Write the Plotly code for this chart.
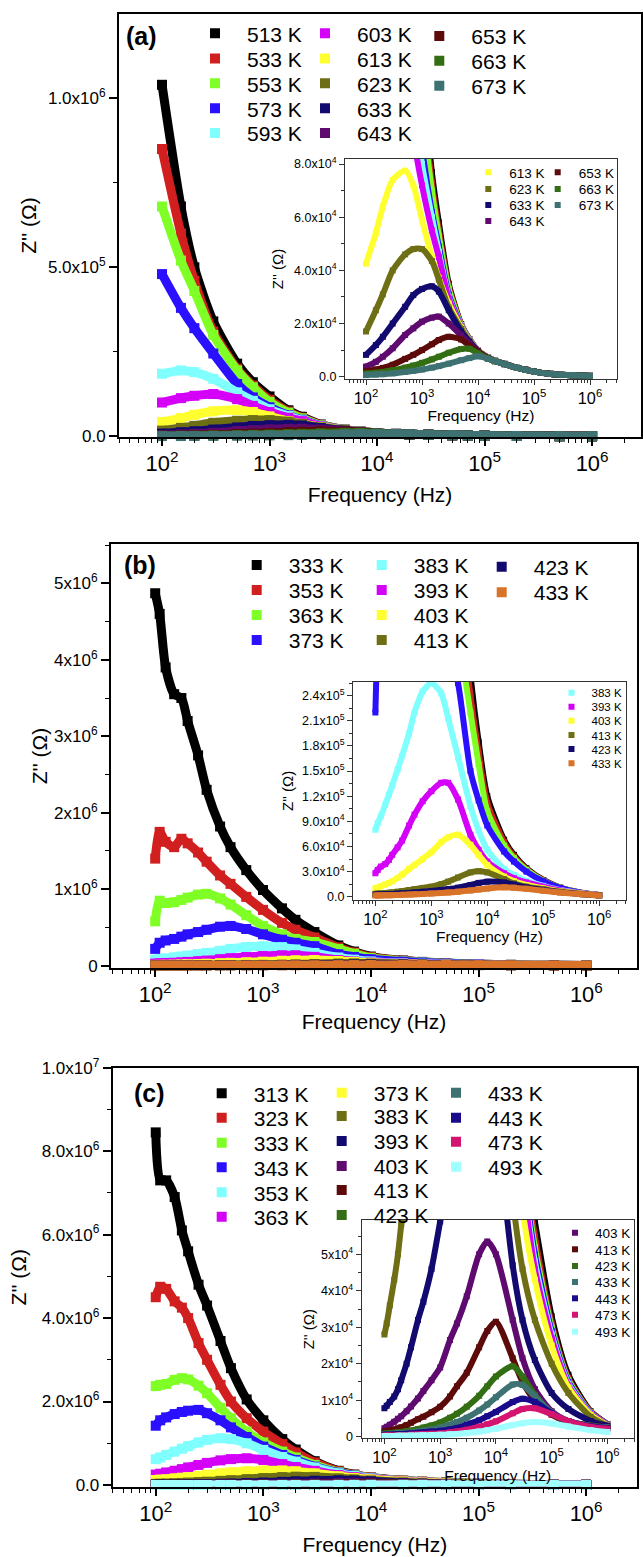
import plotly.graph_objects as go

# ======================= DATA =======================
# ---- panel (a) ----
FREQ_A = [100, 150, 200, 300, 500, 700, 1e3, 1.5e3, 2e3, 3e3, 5e3, 7e3, 1e4, 1.5e4,
          2e4, 3e4, 5e4, 7e4, 1e5, 2e5, 5e5, 1e6]
TEMPS_A = ["513 K", "533 K", "553 K", "573 K", "593 K", "603 K", "613 K", "623 K",
           "633 K", "643 K", "653 K", "663 K", "673 K"]
Z_A_513 = [1.04e6, 6.8e5, 5.0e5, 3.4e5, 2.15e5, 1.6e5, 1.18e5, 7.7e4, 5.8e4, 3.5e4, 1.98e4, 1.42e4, 9.9e3, 7.3e3, 6.1e3, 4.8e3, 3.3e3, 2.6e3, 1.9e3, 1.05e3, 5.0e2, 3.0e2]
Z_A_533 = [8.5e5, 6.0e5, 4.6e5, 3.1e5, 2.0e5, 1.5e5, 1.08e5, 7.3e4, 5.5e4, 3.4e4, 1.96e4, 1.41e4, 9.9e3, 7.3e3, 6.1e3, 4.8e3, 3.3e3, 2.6e3, 1.9e3, 1.05e3, 5.0e2, 3.0e2]
Z_A_553 = [6.8e5, 5.2e5, 4.3e5, 3.0e5, 1.95e5, 1.45e5, 1.02e5, 7.0e4, 5.3e4, 3.3e4, 1.94e4, 1.4e4, 9.8e3, 7.3e3, 6.1e3, 4.8e3, 3.3e3, 2.6e3, 1.9e3, 1.05e3, 5.0e2, 3.0e2]
Z_A_573 = [4.8e5, 3.8e5, 3.2e5, 2.45e5, 1.55e5, 1.15e5, 8.6e4, 6.2e4, 4.9e4, 3.1e4, 1.9e4, 1.39e4, 9.8e3, 7.2e3, 6.0e3, 4.8e3, 3.3e3, 2.6e3, 1.9e3, 1.05e3, 5.0e2, 3.0e2]
Z_A_593 = [1.85e5, 1.95e5, 1.9e5, 1.7e5, 1.3e5, 1.05e5, 8.0e4, 6.0e4, 4.7e4, 3.0e4, 1.88e4, 1.38e4, 9.8e3, 7.2e3, 6.0e3, 4.8e3, 3.3e3, 2.6e3, 1.9e3, 1.05e3, 5.0e2, 3.0e2]
Z_A_603 = [1.0e5, 1.13e5, 1.2e5, 1.25e5, 1.1e5, 9.0e4, 7.2e4, 5.5e4, 4.5e4, 2.95e4, 1.87e4, 1.37e4, 9.8e3, 7.2e3, 6.0e3, 4.8e3, 3.3e3, 2.6e3, 1.9e3, 1.05e3, 5.0e2, 3.0e2]
Z_A_613 = [4.25e4, 5.4e4, 6.4e4, 7.4e4, 7.75e4, 7.2e4, 5.9e4, 4.5e4, 3.7e4, 2.75e4, 1.85e4, 1.36e4, 9.8e3, 7.2e3, 6.0e3, 4.8e3, 3.3e3, 2.6e3, 1.9e3, 1.05e3, 5.0e2, 3.0e2]
Z_A_623 = [1.7e4, 2.5e4, 3.1e4, 4.0e4, 4.6e4, 4.8e4, 4.8e4, 4.35e4, 3.65e4, 2.6e4, 1.8e4, 1.35e4, 9.7e3, 7.1e3, 6.0e3, 4.8e3, 3.3e3, 2.6e3, 1.9e3, 1.05e3, 5.0e2, 3.0e2]
Z_A_633 = [8.2e3, 1.19e4, 1.5e4, 2.0e4, 2.63e4, 3.07e4, 3.3e4, 3.4e4, 3.2e4, 2.5e4, 1.7e4, 1.32e4, 9.6e3, 7.1e3, 5.9e3, 4.8e3, 3.3e3, 2.6e3, 1.9e3, 1.05e3, 5.0e2, 3.0e2]
Z_A_643 = [3.8e3, 5.6e3, 7.5e3, 1.07e4, 1.57e4, 1.82e4, 2.07e4, 2.22e4, 2.26e4, 2.0e4, 1.55e4, 1.25e4, 9.4e3, 7.0e3, 5.9e3, 4.7e3, 3.3e3, 2.6e3, 1.9e3, 1.05e3, 5.0e2, 3.0e2]
Z_A_653 = [2.0e3, 2.7e3, 3.3e3, 4.5e3, 6.7e3, 8.2e3, 1.0e4, 1.22e4, 1.38e4, 1.5e4, 1.4e4, 1.17e4, 9.2e3, 6.9e3, 5.8e3, 4.7e3, 3.3e3, 2.6e3, 1.9e3, 1.05e3, 5.0e2, 3.0e2]
Z_A_663 = [1.2e3, 1.5e3, 1.8e3, 2.4e3, 3.4e3, 4.2e3, 5.2e3, 6.5e3, 7.5e3, 9.0e3, 1.04e4, 1.05e4, 8.8e3, 6.8e3, 5.8e3, 4.7e3, 3.3e3, 2.6e3, 1.9e3, 1.05e3, 5.0e2, 3.0e2]
Z_A_673 = [6.0e2, 8.0e2, 9.5e2, 1.25e3, 1.8e3, 2.2e3, 2.7e3, 3.4e3, 4.0e3, 4.9e3, 6.2e3, 7.0e3, 7.7e3, 6.8e3, 5.9e3, 4.7e3, 3.3e3, 2.6e3, 1.9e3, 1.0e3, 5.0e2, 3.0e2]

# ---- panel (b) ----
FREQ_B = [100, 110, 125, 150, 175, 200, 250, 300, 400, 500, 700, 1e3, 1.5e3, 2e3, 3e3,
          5e3, 7e3, 1e4, 2e4, 3e4, 5e4, 1e5, 2e5, 5e5, 1e6]
TEMPS_B = ["333 K", "353 K", "363 K", "373 K", "383 K", "393 K", "403 K", "413 K",
           "423 K", "433 K"]
Z_B_333 = [4.87e6, 4.6e6, 3.9e6, 3.55e6, 3.5e6, 3.2e6, 2.75e6, 2.3e6, 1.82e6, 1.55e6, 1.25e6, 9.9e5, 7.5e5, 6.0e5, 4.4e5, 2.65e5, 1.85e5, 1.2e5, 6.8e4, 5.0e4, 3.4e4, 2.0e4, 1.1e4, 4.5e3, 2.0e3]
Z_B_353 = [1.4e6, 1.75e6, 1.62e6, 1.55e6, 1.66e6, 1.6e6, 1.48e6, 1.36e6, 1.18e6, 1.07e6, 9.0e5, 7.3e5, 5.6e5, 4.7e5, 3.7e5, 2.4e5, 1.72e5, 1.12e5, 6.5e4, 4.8e4, 3.3e4, 1.95e4, 1.1e4, 4.5e3, 2.0e3]
Z_B_363 = [5.8e5, 8.5e5, 8.2e5, 8.3e5, 8.6e5, 8.9e5, 9.3e5, 9.4e5, 8.8e5, 8.0e5, 6.6e5, 5.2e5, 4.1e5, 3.5e5, 3.1e5, 2.2e5, 1.58e5, 1.02e5, 6.1e4, 4.6e4, 3.2e4, 1.9e4, 1.08e4, 4.5e3, 2.0e3]
Z_B_373 = [2.2e5, 3.0e5, 3.3e5, 3.5e5, 3.8e5, 4.1e5, 4.4e5, 4.7e5, 5.1e5, 5.2e5, 4.8e5, 4.1e5, 3.4e5, 3.0e5, 2.55e5, 1.5e5, 1.15e5, 8.5e4, 5.4e4, 4.2e4, 3.0e4, 1.85e4, 1.05e4, 4.4e3, 2.0e3]
Z_B_383 = [8.0e4, 8.8e4, 9.6e4, 1.1e5, 1.22e5, 1.33e5, 1.52e5, 1.68e5, 1.95e5, 2.2e5, 2.45e5, 2.55e5, 2.43e5, 2.13e5, 1.67e5, 1.08e5, 7.9e4, 5.6e4, 3.3e4, 2.6e4, 1.9e4, 1.3e4, 8.0e3, 4.0e3, 2.0e3]
Z_B_393 = [2.8e4, 3.2e4, 3.6e4, 3.9e4, 4.4e4, 5.0e4, 5.9e4, 6.7e4, 8.5e4, 9.8e4, 1.14e5, 1.26e5, 1.36e5, 1.36e5, 1.16e5, 7.4e4, 5.6e4, 4.2e4, 2.8e4, 2.2e4, 1.7e4, 1.2e4, 7.5e3, 3.8e3, 1.9e3]
Z_B_403 = [1.0e4, 1.1e4, 1.25e4, 1.45e4, 1.65e4, 1.85e4, 2.25e4, 2.65e4, 3.3e4, 3.8e4, 4.5e4, 5.3e4, 6.5e4, 7.1e4, 7.4e4, 6.2e4, 5.0e4, 3.8e4, 2.4e4, 1.85e4, 1.4e4, 1.0e4, 6.5e3, 3.5e3, 1.8e3]
Z_B_413 = [3.5e3, 3.7e3, 4.0e3, 4.4e3, 4.8e3, 5.2e3, 6.0e3, 6.7e3, 8.0e3, 9.0e3, 1.05e4, 1.2e4, 1.5e4, 1.8e4, 2.3e4, 2.9e4, 3.05e4, 2.9e4, 2.1e4, 1.6e4, 1.2e4, 9.0e3, 6.0e3, 3.3e3, 1.7e3]
Z_B_423 = [2.5e3, 2.6e3, 2.7e3, 2.9e3, 3.1e3, 3.3e3, 3.7e3, 4.0e3, 4.6e3, 5.1e3, 5.9e3, 6.8e3, 8.0e3, 9.0e3, 1.08e4, 1.4e4, 1.65e4, 1.8e4, 1.7e4, 1.45e4, 1.1e4, 8.0e3, 5.5e3, 3.1e3, 1.6e3]
Z_B_433 = [1.5e3, 1.5e3, 1.6e3, 1.7e3, 1.8e3, 1.9e3, 2.1e3, 2.3e3, 2.6e3, 2.9e3, 3.3e3, 3.8e3, 4.5e3, 5.1e3, 6.0e3, 7.5e3, 8.6e3, 9.8e3, 1.12e4, 1.08e4, 9.5e3, 7.2e3, 5.0e3, 2.9e3, 1.5e3]

# ---- panel (c) ----
FREQ_C = [100, 110, 125, 150, 175, 200, 250, 300, 400, 500, 700, 1e3, 1.5e3, 2e3, 3e3,
          5e3, 7e3, 1e4, 2e4, 3e4, 5e4, 1e5, 2e5, 5e5, 1e6]
TEMPS_C = ["313 K", "323 K", "333 K", "343 K", "353 K", "363 K", "373 K", "383 K",
           "393 K", "403 K", "413 K", "423 K", "433 K", "443 K", "473 K", "493 K"]
Z_C_313 = [8.45e6, 7.3e6, 7.3e6, 6.9e6, 6.1e6, 5.6e6, 4.8e6, 4.3e6, 3.45e6, 2.8e6, 2.05e6, 1.55e6, 1.1e6, 8.5e5, 5.7e5, 3.4e5, 2.5e5, 1.8e5, 1.05e5, 8.0e4, 5.9e4, 3.3e4, 1.7e4, 7.0e3, 3.5e3]
Z_C_323 = [4.5e6, 4.75e6, 4.7e6, 4.4e6, 4.25e6, 4.0e6, 3.4e6, 3.0e6, 2.4e6, 2.0e6, 1.6e6, 1.28e6, 9.8e5, 7.8e5, 5.4e5, 3.3e5, 2.45e5, 1.75e5, 1.02e5, 7.8e4, 5.5e4, 3.1e4, 1.6e4, 6.8e3, 3.4e3]
Z_C_333 = [2.37e6, 2.4e6, 2.42e6, 2.52e6, 2.56e6, 2.53e6, 2.38e6, 2.2e6, 1.85e6, 1.6e6, 1.28e6, 1.02e6, 8.0e5, 6.6e5, 4.8e5, 3.1e5, 2.35e5, 1.7e5, 1.0e5, 7.6e4, 5.2e4, 3.0e4, 1.55e4, 6.6e3, 3.3e3]
Z_C_343 = [1.42e6, 1.55e6, 1.62e6, 1.7e6, 1.75e6, 1.78e6, 1.8e6, 1.72e6, 1.55e6, 1.38e6, 1.15e6, 9.2e5, 7.2e5, 6.0e5, 4.4e5, 2.95e5, 2.25e5, 1.65e5, 9.7e4, 7.4e4, 5.0e4, 2.9e4, 1.5e4, 6.5e3, 3.3e3]
Z_C_353 = [6.2e5, 6.6e5, 7.2e5, 8.0e5, 8.7e5, 9.3e5, 1.02e6, 1.08e6, 1.12e6, 1.1e6, 1.0e6, 8.4e5, 6.7e5, 5.6e5, 4.2e5, 2.8e5, 2.15e5, 1.6e5, 9.4e4, 7.2e4, 4.8e4, 2.8e4, 1.45e4, 6.3e3, 3.2e3]
Z_C_363 = [2.5e5, 2.7e5, 3.0e5, 3.4e5, 3.8e5, 4.2e5, 4.8e5, 5.3e5, 5.9e5, 6.2e5, 6.4e5, 6.0e5, 5.0e5, 4.3e5, 3.4e5, 2.4e5, 1.9e5, 1.48e5, 9.0e4, 7.0e4, 4.6e4, 2.7e4, 1.4e4, 6.2e3, 3.2e3]
Z_C_373 = [1.2e5, 1.3e5, 1.4e5, 1.6e5, 1.75e5, 1.9e5, 2.2e5, 2.45e5, 2.8e5, 3.05e5, 3.3e5, 3.5e5, 3.5e5, 3.3e5, 2.8e5, 2.1e5, 1.7e5, 1.35e5, 8.5e4, 6.2e4, 4.3e4, 2.5e4, 1.35e4, 6.0e3, 3.1e3]
Z_C_383 = [2.8e4, 3.1e4, 3.6e4, 4.3e4, 5.0e4, 5.8e4, 7.0e4, 8.0e4, 1.0e5, 1.15e5, 1.4e5, 1.65e5, 1.9e5, 2.0e5, 1.95e5, 1.6e5, 1.35e5, 1.1e5, 6.5e4, 4.6e4, 3.2e4, 2.0e4, 1.2e4, 5.5e3, 3.0e3]
Z_C_393 = [7.8e3, 8.5e3, 9.5e3, 1.1e4, 1.3e4, 1.55e4, 2.0e4, 2.45e4, 3.2e4, 3.7e4, 4.6e4, 5.9e4, 7.5e4, 8.8e4, 1.02e5, 1.12e5, 1.08e5, 8.8e4, 4.7e4, 3.2e4, 2.1e4, 1.2e4, 7.6e3, 4.3e3, 3.0e3]
Z_C_403 = [2.3e3, 2.7e3, 3.3e3, 4.1e3, 4.9e3, 5.6e3, 7.0e3, 8.3e3, 1.05e4, 1.25e4, 1.55e4, 1.9e4, 2.65e4, 3.1e4, 3.85e4, 5.0e4, 5.35e4, 5.0e4, 3.2e4, 2.15e4, 1.3e4, 7.0e3, 4.3e3, 3.0e3, 2.6e3]
Z_C_413 = [1.4e3, 1.5e3, 1.7e3, 2.0e3, 2.3e3, 2.6e3, 3.2e3, 3.8e3, 4.8e3, 5.5e3, 6.7e3, 8.2e3, 1.1e4, 1.38e4, 1.75e4, 2.45e4, 2.9e4, 3.15e4, 2.15e4, 1.5e4, 1.0e4, 6.0e3, 4.0e3, 3.0e3, 2.6e3]
Z_C_423 = [9.0e2, 9.5e2, 1.0e3, 1.1e3, 1.2e3, 1.3e3, 1.5e3, 1.7e3, 2.1e3, 2.5e3, 3.1e3, 3.9e3, 5.2e3, 6.3e3, 8.2e3, 1.12e4, 1.38e4, 1.65e4, 1.93e4, 1.65e4, 1.15e4, 6.5e3, 4.2e3, 3.0e3, 2.5e3]
Z_C_433 = [7.0e2, 7.2e2, 7.6e2, 8.2e2, 8.8e2, 9.4e2, 1.05e3, 1.15e3, 1.4e3, 1.6e3, 2.0e3, 2.5e3, 3.3e3, 4.0e3, 5.2e3, 7.2e3, 8.8e3, 1.08e4, 1.43e4, 1.42e4, 1.1e4, 6.6e3, 4.2e3, 2.9e3, 2.5e3]
Z_C_443 = [5.0e2, 5.2e2, 5.5e2, 6.0e2, 6.5e2, 7.0e2, 8.0e2, 9.0e2, 1.1e3, 1.25e3, 1.4e3, 1.6e3, 2.0e3, 2.4e3, 3.3e3, 4.5e3, 5.6e3, 6.8e3, 9.5e3, 1.04e4, 9.5e3, 6.5e3, 4.2e3, 2.9e3, 2.4e3]
Z_C_473 = [3.0e2, 3.1e2, 3.3e2, 3.5e2, 3.8e2, 4.0e2, 4.6e2, 5.2e2, 6.3e2, 7.2e2, 8.0e2, 9.0e2, 1.2e3, 1.4e3, 1.9e3, 2.7e3, 3.4e3, 4.2e3, 6.4e3, 7.6e3, 7.8e3, 6.2e3, 4.2e3, 2.7e3, 2.2e3]
Z_C_493 = [2.0e2, 2.0e2, 2.1e2, 2.2e2, 2.3e2, 2.4e2, 2.7e2, 3.0e2, 3.5e2, 4.0e2, 4.5e2, 5.0e2, 6.5e2, 7.5e2, 1.0e3, 1.4e3, 1.8e3, 2.2e3, 3.2e3, 3.7e3, 4.0e3, 3.6e3, 2.8e3, 1.8e3, 1.3e3]

# ---- tick labels ----
YT_A_MAIN = ["0.0", "5.0x10<sup>5</sup>", "1.0x10<sup>6</sup>"]
YV_A_MAIN = [0, 5e5, 1e6]
YT_A_INS = ["0.0", "2.0x10<sup>4</sup>", "4.0x10<sup>4</sup>", "6.0x10<sup>4</sup>", "8.0x10<sup>4</sup>"]
YV_A_INS = [0, 2e4, 4e4, 6e4, 8e4]
YT_B_MAIN = ["0", "1x10<sup>6</sup>", "2x10<sup>6</sup>", "3x10<sup>6</sup>", "4x10<sup>6</sup>", "5x10<sup>6</sup>"]
YV_B_MAIN = [0, 1e6, 2e6, 3e6, 4e6, 5e6]
YT_B_INS = ["0.0", "3.0x10<sup>4</sup>", "6.0x10<sup>4</sup>", "9.0x10<sup>4</sup>", "1.2x10<sup>5</sup>",
            "1.5x10<sup>5</sup>", "1.8x10<sup>5</sup>", "2.1x10<sup>5</sup>", "2.4x10<sup>5</sup>"]
YV_B_INS = [0, 3e4, 6e4, 9e4, 1.2e5, 1.5e5, 1.8e5, 2.1e5, 2.4e5]
YT_C_MAIN = ["0.0", "2.0x10<sup>6</sup>", "4.0x10<sup>6</sup>", "6.0x10<sup>6</sup>", "8.0x10<sup>6</sup>", "1.0x10<sup>7</sup>"]
YV_C_MAIN = [0, 2e6, 4e6, 6e6, 8e6, 1e7]
YT_C_INS = ["0", "1x10<sup>4</sup>", "2x10<sup>4</sup>", "3x10<sup>4</sup>", "4x10<sup>4</sup>", "5x10<sup>4</sup>"]
YV_C_INS = [0, 1e4, 2e4, 3e4, 4e4, 5e4]

# ---- colours ----
BLACK, RED, LIME, BLUE, CYAN = "#000000", "#d11f1f", "#80ff26", "#2a10ff", "#80ffff"
MAGENTA, YELLOW, OLIVE, NAVY = "#d400f7", "#ffff30", "#6e6e14", "#120a6e"
PURPLE, MAROON, DGREEN, TEAL = "#5e0a6e", "#5c0a0a", "#346e14", "#3e7272"
ORANGE, NAVY2, PINK, LCYAN = "#d9732a", "#1a0a8c", "#d41470", "#a0ffff"

COLORS_A = [BLACK, RED, LIME, BLUE, CYAN, MAGENTA, YELLOW, OLIVE, NAVY, PURPLE, MAROON, DGREEN, TEAL]
COLORS_B = [BLACK, RED, LIME, BLUE, CYAN, MAGENTA, YELLOW, OLIVE, NAVY, ORANGE]
COLORS_C = [BLACK, RED, LIME, BLUE, CYAN, MAGENTA, YELLOW, OLIVE, NAVY, PURPLE, MAROON, DGREEN,
            TEAL, NAVY2, PINK, LCYAN]

VALUES_A = [Z_A_513, Z_A_533, Z_A_553, Z_A_573, Z_A_593, Z_A_603, Z_A_613, Z_A_623, Z_A_633,
            Z_A_643, Z_A_653, Z_A_663, Z_A_673]
VALUES_B = [Z_B_333, Z_B_353, Z_B_363, Z_B_373, Z_B_383, Z_B_393, Z_B_403, Z_B_413, Z_B_423, Z_B_433]
VALUES_C = [Z_C_313, Z_C_323, Z_C_333, Z_C_343, Z_C_353, Z_C_363, Z_C_373, Z_C_383, Z_C_393,
            Z_C_403, Z_C_413, Z_C_423, Z_C_433, Z_C_443, Z_C_473, Z_C_493]

for F, VV in ((FREQ_A, VALUES_A), (FREQ_B, VALUES_B), (FREQ_C, VALUES_C)):
    for v in VV:
        assert len(v) == len(F)

# ======================= LAYOUT (pixel positions of legend entries) =======================
W, H = 643, 1557
FONT = "Liberation Sans, Arial, sans-serif"
NARROW = "Liberation Sans Narrow, Arial Narrow, Liberation Sans, Arial, sans-serif"

ROWS_A = [33.3, 58.5, 83.3, 108.3, 133.0]
LEGPOS_A_MAIN = ([(215, r) for r in ROWS_A] + [(325, r) for r in ROWS_A]
                 + [(439.3, r) for r in (36, 60.7, 85.7)])
LEGPOS_A_INS = [None] * 6 + [(488.3, r) for r in (172.3, 189, 205, 221)] + \
               [(557.7, r) for r in (172.3, 189, 205)]
ROWS_B = [565, 590, 615, 640]
LEGPOS_B_MAIN = [(256.7, r) for r in ROWS_B] + [(381.7, r) for r in ROWS_B] + \
                [(501.7, r) for r in (566.7, 592.2)]
LEGPOS_B_INS = [None] * 4 + [(571.5, r) for r in (692.7, 706.7, 720.7, 735, 749, 763.3)]
LEGPOS_C_MAIN = ([(221.7, r) for r in (1093.3, 1117.7, 1142.7, 1167.3, 1192.3, 1216.7)]
                 + [(341.7, r) for r in (1092.7, 1116, 1141, 1166, 1190, 1215)]
                 + [(456, r) for r in (1092.7, 1117.7, 1141.7, 1166.7)])
LEGPOS_C_INS = [None] * 9 + [(575, r) for r in (1232.7, 1249.3, 1266, 1282, 1298.3, 1314.7, 1331.7)]


def dx(a, b):
    return [a / W, b / W]


def dy(top, bottom):
    return [1 - bottom / H, 1 - top / H]


def x_axis(domain, rng, anchor, inset=False, standoff=12):
    return dict(
        type="log", domain=domain, range=rng, anchor=anchor,
        showline=True, linecolor="#333" if inset else "black", linewidth=1 if inset else 2,
        mirror=True, ticks="outside", ticklen=5 if inset else 7, tickwidth=1 if inset else 1.5,
        tickcolor="#333" if inset else "black",
        dtick=1, exponentformat="power",
        tickfont=dict(family=NARROW, size=13 if inset else 17.5, color="black"),
        minor=dict(ticks="outside", ticklen=3 if inset else 4, tickwidth=1,
                   tickcolor="#333" if inset else "black", dtick="D1", showgrid=False),
        showgrid=False, zeroline=False,
        title=dict(text="Frequency (Hz)", font=dict(family=FONT, size=15.5 if inset else 21,
                                                    color="black"),
                   standoff=standoff),
    )


def y_axis(domain, rng, anchor, tv, tt, minor_dt, inset=False, standoff=6):
    return dict(
        domain=domain, range=rng, anchor=anchor,
        showline=True, linecolor="#333" if inset else "black", linewidth=1 if inset else 2,
        mirror=True, ticks="outside", ticklen=5 if inset else 8, tickwidth=1 if inset else 1.5,
        tickcolor="#333" if inset else "black",
        tickmode="array", tickvals=tv, ticktext=tt,
        tickfont=dict(family=NARROW, size=12.5 if inset else 17, color="black"),
        minor=dict(ticks="outside", ticklen=3 if inset else 4, tickwidth=1,
                   tickcolor="#333" if inset else "black", tickmode="linear", tick0=0,
                   dtick=minor_dt, showgrid=False),
        showgrid=False, zeroline=False,
        title=dict(text="Z'' (Ω)", font=dict(family=FONT, size=15 if inset else 21, color="black"),
                   standoff=standoff),
    )


legend_layouts = {}


def new_legend(pos, fs, itemwidth):
    n = len(legend_layouts) + 1
    key = "legend" if n == 1 else "legend%d" % n
    cx, cy = pos
    h = max(1.3 * fs, 16) + 3
    top = cy - 5 - h / 2
    left = cx - itemwidth / 2 - 5
    legend_layouts[key] = dict(
        x=left / W, y=1 - top / H, xanchor="left", yanchor="top",
        bgcolor="rgba(0,0,0,0)", borderwidth=0, orientation="v",
        font=dict(family=FONT, size=fs, color="black"), itemwidth=itemwidth,
        tracegroupgap=0, traceorder="normal", itemsizing="trace")
    return key


fig = go.Figure()


def add_series(F, Z, color, name, xa, ya, msize, lw, legpos, fs, itemwidth, clip=True):
    fig.add_trace(go.Scatter(x=F, y=Z, mode="lines",
                             line=dict(color=color, width=lw, shape="spline", smoothing=0.7),
                             xaxis=xa, yaxis=ya, showlegend=False, hoverinfo="skip",
                             cliponaxis=True))
    leg = new_legend(legpos, fs, itemwidth) if legpos is not None else None
    fig.add_trace(go.Scatter(
        x=F, y=Z, mode="markers",
        marker=dict(symbol="square", size=msize, color=color, line=dict(width=0)),
        xaxis=xa, yaxis=ya, cliponaxis=clip, name=name,
        showlegend=leg is not None, legend=leg if leg else "legend"))


# ---------- panel (a) ----------
for t, c, z, p in zip(TEMPS_A, COLORS_A, VALUES_A, LEGPOS_A_MAIN):
    add_series(FREQ_A, z, c, t, "x", "y", 10, 9, p, 21, 54, clip=False)
for t, c, z, p in zip(TEMPS_A, COLORS_A, VALUES_A, LEGPOS_A_INS):
    add_series(FREQ_A, z, c, t, "x2", "y2", 6, 6, p, 13.5, 32)
# ---------- panel (b) ----------
for t, c, z, p in zip(TEMPS_B, COLORS_B, VALUES_B, LEGPOS_B_MAIN):
    add_series(FREQ_B, z, c, t, "x3", "y3", 10, 9, p, 21, 54, clip=False)
for t, c, z, p in zip(TEMPS_B, COLORS_B, VALUES_B, LEGPOS_B_INS):
    add_series(FREQ_B, z, c, t, "x4", "y4", 6, 6, p, 11.5, 30)
# ---------- panel (c) ----------
for t, c, z, p in zip(TEMPS_C, COLORS_C, VALUES_C, LEGPOS_C_MAIN):
    add_series(FREQ_C, z, c, t, "x5", "y5", 10, 9, p, 21, 54, clip=False)
for t, c, z, p in zip(TEMPS_C, COLORS_C, VALUES_C, LEGPOS_C_INS):
    add_series(FREQ_C, z, c, t, "x6", "y6", 6, 6, p, 13.5, 30)

fig.update_layout(
    width=W, height=H, margin=dict(l=0, r=0, t=0, b=0, autoexpand=False),
    paper_bgcolor="white", plot_bgcolor="rgba(0,0,0,0)",
    font=dict(family=FONT, color="black"),
    showlegend=True,
    # panel (a)
    xaxis=x_axis(dx(119, 641), [1.60, 6.455], "y", standoff=12),
    yaxis=y_axis(dy(14, 437), [-2000, 1.2494e6], "x", YV_A_MAIN, YT_A_MAIN, 2.5e5, standoff=6),
    xaxis2=x_axis(dx(345, 617), [1.625, 6.482], "y2", inset=True, standoff=4),
    yaxis2=y_axis(dy(159, 379), [-865, 81880], "x2", YV_A_INS, YT_A_INS, 1e4, inset=True,
                  standoff=6),
    # panel (b)
    xaxis3=x_axis(dx(111, 637), [1.59, 6.47], "y3", standoff=8),
    yaxis3=y_axis(dy(544, 968), [-3.0e4, 5.514e6], "x3", YV_B_MAIN, YT_B_MAIN, 5e5, standoff=1),
    xaxis4=x_axis(dx(353, 626), [1.600, 6.479], "y4", inset=True, standoff=4),
    yaxis4=y_axis(dy(681.7, 900), [-3900, 2.567e5], "x4", YV_B_INS, YT_B_INS, 1.5e4, inset=True,
                  standoff=4),
    # panel (c)
    xaxis5=x_axis(dx(112.7, 637), [1.600, 6.473], "y5", standoff=12),
    yaxis5=y_axis(dy(1067.7, 1486.7), [-4.1e4, 1.0e7], "x5", YV_C_MAIN, YT_C_MAIN, 1e6, standoff=9),
    xaxis6=x_axis(dx(361.5, 634), [1.589, 6.477], "y6", inset=True, standoff=4),
    yaxis6=y_axis(dy(1220, 1438.3), [-440, 5.94e4], "x6", YV_C_INS, YT_C_INS, 5e3, inset=True,
                  standoff=2),
    **legend_layouts,
)

for lab, (cx, cy) in (("(a)", (141.5, 36)), ("(b)", (140, 565)), ("(c)", (149.5, 1093))):
    fig.add_annotation(text="<b>%s</b>" % lab, x=cx / W, y=1 - cy / H, xref="paper", yref="paper",
                       showarrow=False, xanchor="center", yanchor="middle",
                       font=dict(family=FONT, size=25, color="black"))

fig.write_html("out.html")
